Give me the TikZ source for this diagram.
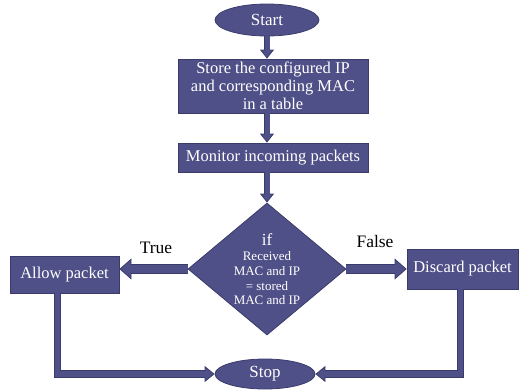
\documentclass[tikz,border=0pt]{standalone}
\usepackage{fontspec}
\setmainfont{Liberation Serif}
\usetikzlibrary{shapes.geometric,arrows.meta}
\definecolor{boxfill}{HTML}{4F5087}
\definecolor{boxedge}{HTML}{3A3B6B}
\tikzset{
  term/.style={ellipse, fill=boxfill, draw=boxedge, line width=0.8pt, text=white, minimum width=104pt, minimum height=32pt, inner sep=0pt, font=\fontsize{17}{20}\selectfont},
  proc/.style={rectangle, fill=boxfill, draw=boxedge, line width=0.8pt, text=white, align=center, inner sep=0pt, font=\fontsize{16.5}{18}\selectfont},
  decision/.style={diamond, fill=boxfill, draw=boxedge, line width=0.8pt, text=white, minimum width=158pt, minimum height=132pt, inner sep=0pt, aspect=1.2, align=center, font=\fontsize{13}{14.7}\selectfont},
  vflow/.style={draw=boxedge, line width=6.5pt, -{Triangle[length=9pt, width=14pt, line width=0.8pt, fill=boxfill]}, postaction={draw=boxfill, line width=5pt, -, shorten >=7.5pt}},
  tflow/.style={draw=boxedge, line width=10pt, -{Triangle[length=12pt, width=21pt, line width=0.8pt, fill=boxfill]}, postaction={draw=boxfill, line width=8.4pt, -, shorten >=10.5pt}},
  lflow/.style={draw=boxedge, line width=7.5pt, -{Triangle[length=10pt, width=16pt, line width=0.8pt, fill=boxfill]}, postaction={draw=boxfill, line width=5.9pt, -, shorten >=8.5pt}},
  lbl/.style={text=black, font=\fontsize{17.5}{20}\selectfont}
}

\begin{document}
\begin{tikzpicture}[x=1pt, y=-1pt]
  \useasboundingbox (0,0) rectangle (519,389);

  \node[term] (start) at (267,20) {Start};
  \node[proc, minimum width=190pt, minimum height=54pt] (store) at (273,86)
    {Store the configured IP\\and corresponding MAC\\in a table};
  \node[proc, minimum width=190pt, minimum height=29pt] (monitor) at (273,157.5) {Monitor incoming packets};
  \node[decision] (check) at (267,269)
    {{\fontsize{17}{15}\selectfont if}\\[1pt]
     Received\\MAC and IP\\= stored\\MAC and IP};
  \node[proc, minimum width=109pt, minimum height=37pt] (allow) at (64.5,274.5) {Allow packet};
  \node[proc, minimum width=111pt, minimum height=40pt] (discard) at (462.5,269) {Discard packet};
  \node[term, minimum width=100pt, minimum height=30pt] (stop) at (265,374) {Stop};

  \draw[vflow] (start.south) -- (start.south |- store.north);
  \draw[vflow] (start.south |- store.south) -- (start.south |- monitor.north);
  \draw[vflow] (start.south |- monitor.south) -- (check.north);
  \draw[tflow] (check.west) -- (check.west -| allow.east);
  \draw[tflow] (check.east) -- (check.east -| discard.west);
  \draw[lflow] ([xshift=-7pt]allow.south) |- (stop.west);
  \draw[lflow] ([xshift=-2pt]discard.south) |- (stop.east);

  \node[lbl] (truelbl) at (156,248) {True};
  \node[lbl] (falselbl) at (375,242) {False};
\end{tikzpicture}
\end{document}
